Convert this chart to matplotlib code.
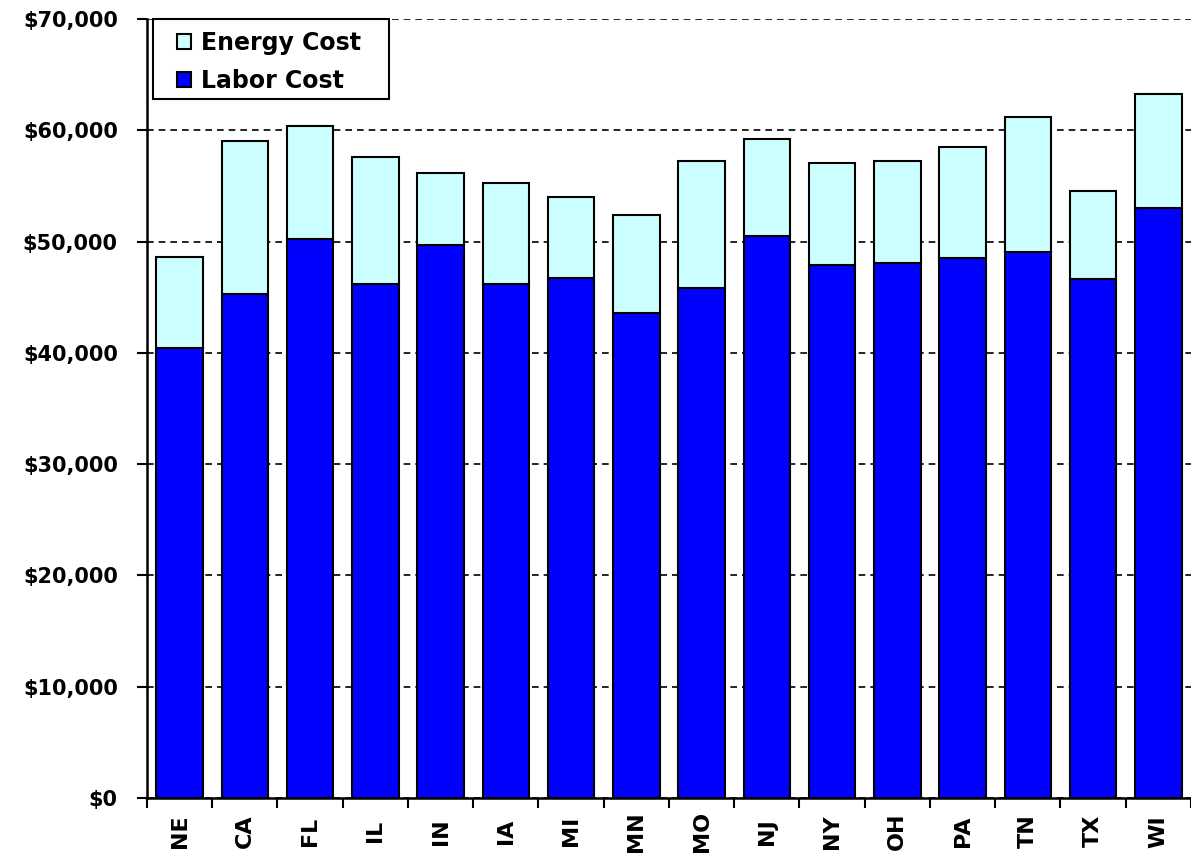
import matplotlib
matplotlib.use("Agg")
import matplotlib.pyplot as plt
from matplotlib.patches import Rectangle
from matplotlib.transforms import Affine2D
from matplotlib.ticker import FuncFormatter, MultipleLocator
import numpy as np

# Annual operating cost by state
states = ["NE", "CA", "FL", "IL", "IN", "IA", "MI", "MN",
          "MO", "NJ", "NY", "OH", "PA", "TN", "TX", "WI"]
labor_cost = [40400, 45250, 50200, 46150, 49650, 46150, 46700, 43600,
              45830, 50540, 47900, 48080, 48480, 49070, 46630, 52970]
total_cost = [48590, 59040, 60360, 57620, 56160, 55270, 53980, 52410,
              57200, 59200, 57020, 57200, 58480, 61210, 54550, 63270]
energy_cost = [t - l for t, l in zip(total_cost, labor_cost)]

plt.rcParams["font.family"] = ["DejaVu Sans"]
plt.rcParams["font.weight"] = "bold"

W, H = 1191, 855
fig = plt.figure(figsize=(W / 100, H / 100), dpi=100)
ax = fig.add_axes([0.1234, 0.0667, 0.8766, 0.9111])

x = np.arange(len(states))
w = 0.714
ax.bar(x, labor_cost, width=w, color="#0000FF", edgecolor="black",
       linewidth=1.5, label="Labor Cost", zorder=3)
ax.bar(x, energy_cost, width=w, bottom=labor_cost, color="#CCFFFF",
       edgecolor="black", linewidth=1.5, label="Energy Cost", zorder=3)

ax.set_xlim(-0.5, len(states) - 0.5)
ax.set_ylim(0, 70000)
ax.yaxis.set_major_locator(MultipleLocator(10000))
ax.yaxis.set_major_formatter(FuncFormatter(lambda v, p: f"${v:,.0f}"))
ax.yaxis.grid(True, linestyle=(0, (4, 3)), color="black", linewidth=1.2, zorder=0)

# category labels centred below the axis, ticks between categories
ax.set_xticks(x)
ax.set_xticklabels(states, rotation=90, fontsize=16, fontweight="bold")
for lbl in ax.get_xticklabels():
    lbl.set_verticalalignment("center")
ax.set_xticks(np.arange(-0.5, len(states)), minor=True)
ax.tick_params(axis="x", which="major", length=0, pad=24)
ax.tick_params(axis="x", which="minor", length=7, width=1.5, direction="out")
ax.tick_params(axis="y", length=7, width=1.5, direction="out", labelsize=15, pad=14)
for lbl in ax.get_yticklabels():
    lbl.set_fontweight("bold")

for side in ("top", "right"):
    ax.spines[side].set_visible(False)
for side in ("left", "bottom"):
    ax.spines[side].set_linewidth(1.8)
    ax.spines[side].set_zorder(4)

# legend box
px = Affine2D().scale(1 / W, 1 / H) + fig.transFigure
frame = Rectangle((153, H - 99), 236, 80, transform=px, facecolor="white",
                  edgecolor="black", linewidth=1.5, zorder=5, clip_on=False)
ax.add_patch(frame)

handles, labels = ax.get_legend_handles_labels()
leg = ax.legend(handles[::-1], labels[::-1], loc="upper left",
                bbox_to_anchor=(177, H - 31), bbox_transform=px,
                frameon=False, handlelength=0.6, handleheight=0.6,
                handletextpad=0.4, borderpad=0.0, borderaxespad=0.0,
                labelspacing=0.6, prop={"weight": "bold", "size": 17})
leg.set_zorder(6)

fig.savefig("out.png", dpi=100, facecolor="white")
